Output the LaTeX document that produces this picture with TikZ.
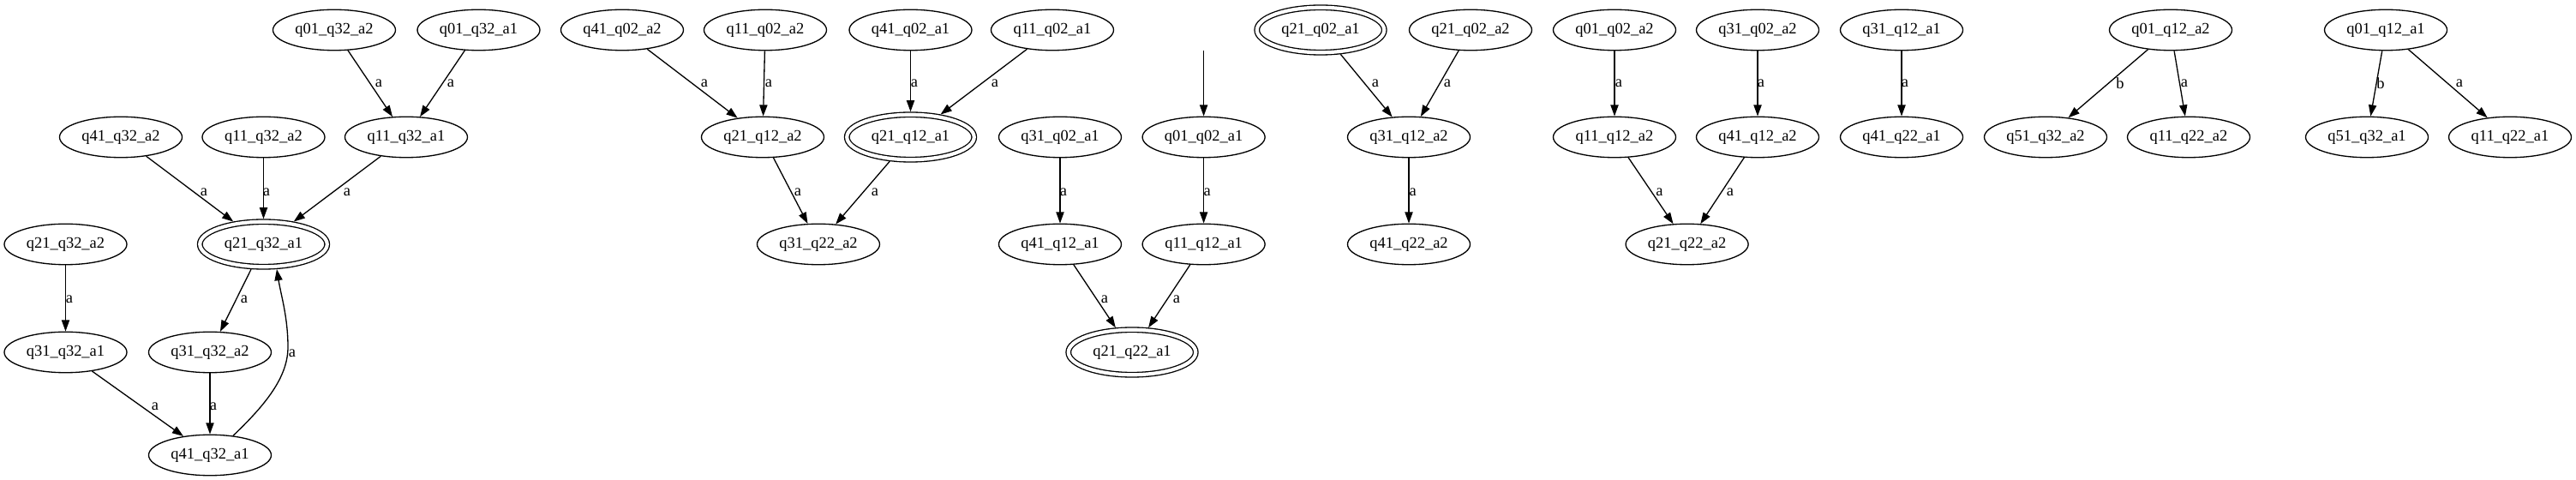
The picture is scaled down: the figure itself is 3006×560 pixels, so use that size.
\documentclass[tikz,border=0pt]{standalone}
\usepackage{fontspec}
\setmainfont{Liberation Serif}
\usetikzlibrary{arrows.meta,shapes.geometric}
\begin{document}
\begin{tikzpicture}[x=0.5pt,y=-0.5pt,
  st/.style={draw, ellipse, line width=0.66pt, inner sep=0pt, minimum width=71.5pt, minimum height=23.75pt, font=\fontsize{9.24}{11}\selectfont},
  acc/.style={st, minimum width=74.25pt, minimum height=26.25pt, double, double distance=2.09pt, outer sep=1.7pt},
  ed/.style={-{Triangle[length=6.6pt,width=4.6pt]}, line width=0.66pt},
  lb/.style={inner sep=0pt, font=\fontsize{9.24}{11}\selectfont}]
\useasboundingbox (0,0) rectangle (3006,560);
% component 1
\node[st]  (n01_32_a2) at (390,35)    {q01\_q32\_a2};
\node[st]  (n01_32_a1) at (558.5,35)  {q01\_q32\_a1};
\node[st]  (n41_32_a2) at (141,160)   {q41\_q32\_a2};
\node[st]  (n11_32_a2) at (307.5,160) {q11\_q32\_a2};
\node[st]  (n11_32_a1) at (474,160)   {q11\_q32\_a1};
\node[acc] (n21_32_a1) at (307.5,285) {q21\_q32\_a1};
\node[st]  (n21_32_a2) at (76.5,285)  {q21\_q32\_a2};
\node[st]  (n31_32_a1) at (76.5,411)  {q31\_q32\_a1};
\node[st]  (n31_32_a2) at (245,411)   {q31\_q32\_a2};
\node[st]  (n41_32_a1) at (245,531)   {q41\_q32\_a1};
\draw[ed] (n01_32_a2) -- (n11_32_a1) node[lb] at (442,97.5) {a};
\draw[ed] (n01_32_a1) -- (n11_32_a1) node[lb] at (526,97.5) {a};
\draw[ed] (n41_32_a2) -- (n21_32_a1) node[lb] at (238,224) {a};
\draw[ed] (n11_32_a2) -- (n21_32_a1) node[lb] at (311,224) {a};
\draw[ed] (n11_32_a1) -- (n21_32_a1) node[lb] at (405,224) {a};
\draw[ed] (n21_32_a2) -- (n31_32_a1) node[lb] at (81,349) {a};
\draw[ed] (n21_32_a1) -- (n31_32_a2) node[lb] at (285,349) {a};
\draw[ed] (n31_32_a1) -- (n41_32_a1) node[lb] at (181,474) {a};
\draw[ed] (n31_32_a2) -- (n41_32_a1) node[lb] at (249,474) {a};
\draw[ed] (n41_32_a1.40) .. controls (310,472) and (336,440) .. (336,405)
   .. controls (336,370) and (328,345) .. (n21_32_a1.-62) node[lb] at (341,412) {a};
% component 2
\node[st]  (n41_02_a2) at (726,35)    {q41\_q02\_a2};
\node[st]  (n11_02_a2) at (893,35)    {q11\_q02\_a2};
\node[st]  (n41_02_a1) at (1062.5,35) {q41\_q02\_a1};
\node[st]  (n11_02_a1) at (1228,35)   {q11\_q02\_a1};
\node[st]  (n21_12_a2) at (890,160)   {q21\_q12\_a2};
\node[acc] (n21_12_a1) at (1062.5,160) {q21\_q12\_a1};
\node[st]  (n31_22_a2) at (955,285)   {q31\_q22\_a2};
\draw[ed] (n41_02_a2) -- (n21_12_a2) node[lb] at (822,97.5) {a};
\draw[ed] (n11_02_a2) -- (n21_12_a2) node[lb] at (897,97.5) {a};
\draw[ed] (n41_02_a1) -- (n21_12_a1) node[lb] at (1067,97.5) {a};
\draw[ed] (n11_02_a1) -- (n21_12_a1) node[lb] at (1161,97.5) {a};
\draw[ed] (n21_12_a2) -- (n31_22_a2) node[lb] at (931,224) {a};
\draw[ed] (n21_12_a1) -- (n31_22_a2) node[lb] at (1021,224) {a};
% component 3
\coordinate (start) at (1404.6,59);
\node[st]  (n01_02_a1) at (1404.6,160) {q01\_q02\_a1};
\node[st]  (n11_12_a1) at (1404.6,285) {q11\_q12\_a1};
\node[st]  (n31_02_a1) at (1237,160)   {q31\_q02\_a1};
\node[st]  (n41_12_a1) at (1237,285)   {q41\_q12\_a1};
\node[acc] (n21_22_a1) at (1321,411)   {q21\_q22\_a1};
\draw[ed] (start) -- (n01_02_a1);
\draw[ed] (n01_02_a1) -- (n11_12_a1) node[lb] at (1408.6,224) {a};
\draw[ed] (n31_02_a1) -- (n41_12_a1) node[lb] at (1241,224) {a};
\draw[ed] (n41_12_a1) -- (n21_22_a1) node[lb] at (1289,349) {a};
\draw[ed] (n11_12_a1) -- (n21_22_a1) node[lb] at (1373,349) {a};
% component 4
\node[acc] (n21_02_a1) at (1541,35)  {q21\_q02\_a1};
\node[st]  (n21_02_a2) at (1716,35)  {q21\_q02\_a2};
\node[st]  (n31_12_a2) at (1644,160) {q31\_q12\_a2};
\node[st]  (n41_22_a2) at (1644,285) {q41\_q22\_a2};
\draw[ed] (n21_02_a1) -- (n31_12_a2) node[lb] at (1605,97.5) {a};
\draw[ed] (n21_02_a2) -- (n31_12_a2) node[lb] at (1689,97.5) {a};
\draw[ed] (n31_12_a2) -- (n41_22_a2) node[lb] at (1648.6,224) {a};
% component 5
\node[st]  (n01_02_a2) at (1884,35)    {q01\_q02\_a2};
\node[st]  (n11_12_a2) at (1884,160)   {q11\_q12\_a2};
\node[st]  (n31_02_a2) at (2051,35)    {q31\_q02\_a2};
\node[st]  (n41_12_a2) at (2051,160)   {q41\_q12\_a2};
\node[st]  (n21_22_a2) at (1968.6,285) {q21\_q22\_a2};
\draw[ed] (n01_02_a2) -- (n11_12_a2) node[lb] at (1889,97.5) {a};
\draw[ed] (n31_02_a2) -- (n41_12_a2) node[lb] at (2055,97.5) {a};
\draw[ed] (n11_12_a2) -- (n21_22_a2) node[lb] at (1936.4,224) {a};
\draw[ed] (n41_12_a2) -- (n21_22_a2) node[lb] at (2019,224) {a};
% component 6
\node[st]  (n31_12_a1) at (2219,35)  {q31\_q12\_a1};
\node[st]  (n41_22_a1) at (2219,160) {q41\_q22\_a1};
\draw[ed] (n31_12_a1) -- (n41_22_a1) node[lb] at (2223,97.5) {a};
% component 7
\node[st]  (n01_12_a2) at (2533,35)  {q01\_q12\_a2};
\node[st]  (n51_32_a2) at (2387,160) {q51\_q32\_a2};
\node[st]  (n11_22_a2) at (2554,160) {q11\_q22\_a2};
\draw[ed] (n01_12_a2) -- (n51_32_a2) node[lb] at (2474,97.5) {b};
\draw[ed] (n01_12_a2) -- (n11_22_a2) node[lb] at (2549,97.5) {a};
% component 8
\node[st]  (n01_12_a1) at (2784,35)  {q01\_q12\_a1};
\node[st]  (n51_32_a1) at (2762,160) {q51\_q32\_a1};
\node[st]  (n11_22_a1) at (2929,160) {q11\_q22\_a1};
\draw[ed] (n01_12_a1) -- (n51_32_a1) node[lb] at (2778,97.5) {b};
\draw[ed] (n01_12_a1) -- (n11_22_a1) node[lb] at (2870,97.5) {a};
\end{tikzpicture}
\end{document}
